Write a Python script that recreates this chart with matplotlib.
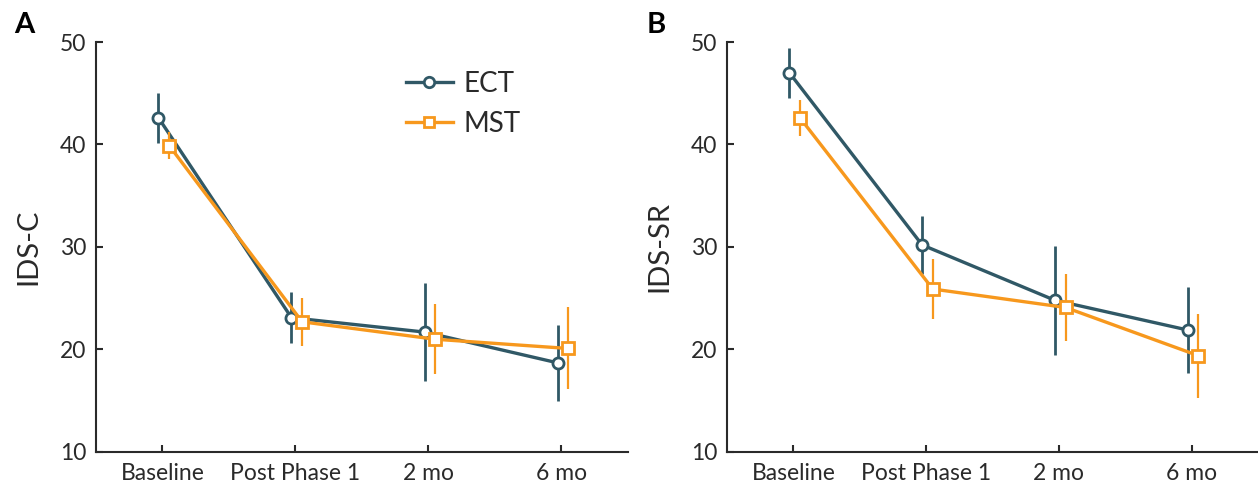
import matplotlib
matplotlib.use("Agg")
import matplotlib.pyplot as plt
from matplotlib.lines import Line2D
import numpy as np

plt.rcParams['font.family'] = ['Lato', 'DejaVu Sans']

# time points
timepoints = ["Baseline", "Post Phase 1", "2 mo", "6 mo"]

# panel A: IDS-C
ect_c = [42.6, 23.1, 21.7, 18.7]
ect_c_err = [2.45, 2.5, 4.8, 3.7]
mst_c = [39.9, 22.7, 21.0, 20.1]
mst_c_err = [1.3, 2.35, 3.4, 4.0]

# panel B: IDS-SR
ect_sr = [47.0, 30.2, 24.8, 21.9]
ect_sr_err = [2.45, 2.8, 5.3, 4.2]
mst_sr = [42.6, 25.9, 24.1, 19.4]
mst_sr_err = [1.75, 2.95, 3.3, 4.1]

ect_col = "#305866"
mst_col = "#f7981d"
dark = "#2a2a2a"

fig = plt.figure(figsize=(12.58, 4.93), dpi=100)
axA = fig.add_axes([0.0763, 0.0832, 0.4229, 0.8316])
axB = fig.add_axes([0.5779, 0.0832, 0.4221, 0.8316])

x = np.arange(len(timepoints))

def panel(ax, ect, ect_err, mst, mst_err, ylab):
    ax.errorbar(x - 0.03, ect, yerr=ect_err, color=ect_col, lw=2.4, elinewidth=2.0,
                marker="o", ms=8, mfc="white", mec=ect_col, mew=2.0, zorder=3)
    ax.errorbar(x + 0.05, mst, yerr=mst_err, color=mst_col, lw=2.4, elinewidth=1.6,
                marker="s", ms=8, mfc="white", mec=mst_col, mew=2.0, zorder=4)
    ax.set_xlim(-0.5, 3.5)
    ax.set_ylim(10, 50)
    ax.set_yticks([10, 20, 30, 40, 50])
    ax.set_xticks(x)
    ax.set_xticklabels(timepoints)
    ax.spines['top'].set_visible(False)
    ax.spines['right'].set_visible(False)
    for s in ['left', 'bottom']:
        ax.spines[s].set_linewidth(1.5)
        ax.spines[s].set_color(dark)
    ax.tick_params(direction='in', length=5, width=1.5, color=dark, labelcolor=dark,
                   labelsize=16.5, pad=8)
    ax.tick_params(axis='y', pad=7)
    ax.set_ylabel(ylab, fontsize=21, color=dark, labelpad=13)

panel(axA, ect_c, ect_c_err, mst_c, mst_c_err, "IDS-C")
panel(axB, ect_sr, ect_sr_err, mst_sr, mst_sr_err, "IDS-SR")

handles = [
    Line2D([], [], color=ect_col, lw=2.4, marker="o", ms=7.5, mfc="white", mec=ect_col, mew=2.0),
    Line2D([], [], color=mst_col, lw=2.4, marker="s", ms=7.5, mfc="white", mec=mst_col, mew=2.0),
]
leg = axA.legend(handles, ["ECT", "MST"], loc="upper left", bbox_to_anchor=(0.535, 0.99),
                 frameon=False, fontsize=20, handlelength=1.7, handletextpad=0.4,
                 labelspacing=0.5)
for t in leg.get_texts():
    t.set_color(dark)

fig.text(0.011, 0.975, "A", fontsize=21, fontweight="bold", va="top", ha="left")
fig.text(0.514, 0.975, "B", fontsize=21, fontweight="bold", va="top", ha="left")

fig.savefig("out.png", dpi=100)
